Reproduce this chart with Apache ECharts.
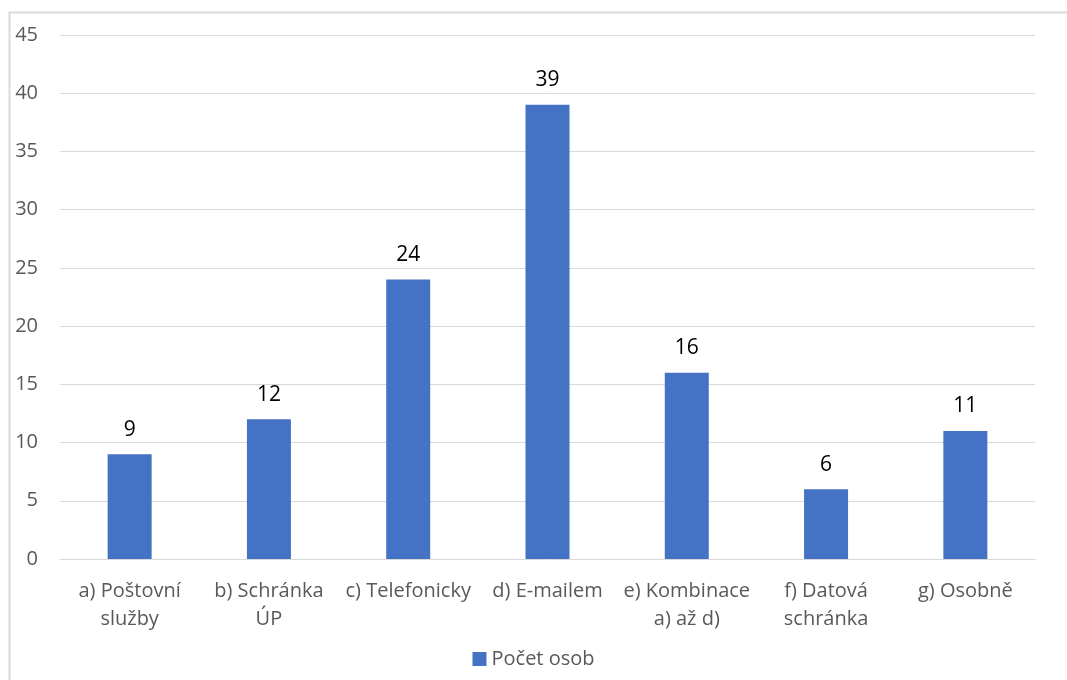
<!DOCTYPE html>
<html>
<head>
<meta charset="utf-8">
<script src="https://cdn.jsdelivr.net/npm/echarts@6/dist/echarts.min.js"></script>
<style>
  html, body { margin: 0; padding: 0; background: #fff; }
  #chart { width: 1067px; height: 680px; }
</style>
</head>
<body>
<div id="chart"></div>
<script>
// data
var categories = ['a) Poštovní\nslužby', 'b) Schránka\nÚP', 'c) Telefonicky', 'd) E-mailem',
                  'e) Kombinace\na) až d)', 'f) Datová\nschránka', 'g) Osobně'];
var pocetOsob = [9, 12, 24, 39, 16, 6, 11];
var seriesName = 'Počet osob';

var font = '"Open Sans", "Noto Sans", sans-serif';
var chart = echarts.init(document.getElementById('chart'));
var option = {
    backgroundColor: '#FFFFFF',
    animation: false,
    textStyle: { fontFamily: font },
    graphic: [{
        type: 'rect',
        shape: { x: 9.5, y: 12.5, width: 1200, height: 800 },
        style: { fill: 'none', stroke: '#d9d9d9', lineWidth: 2 },
        silent: true
    }],
    legend: {
        data: [seriesName],
        top: 644,
        left: 'center',
        icon: 'rect',
        itemWidth: 14,
        itemHeight: 14,
        itemGap: 6,
        textStyle: { fontFamily: font, fontSize: 20, color: '#595959' }
    },
    grid: {
        top: 35,
        left: 60,
        right: 32,
        bottom: 121,
        containLabel: false
    },
    xAxis: {
        type: 'category',
        data: categories,
        axisLine: { show: true, lineStyle: { color: '#d9d9d9', width: 1 } },
        axisTick: { show: false },
        axisLabel: {
            interval: 0,
            margin: 18,
            lineHeight: 28,
            color: '#595959',
            fontSize: 20,
            fontFamily: font,
            align: 'center'
        }
    },
    yAxis: {
        type: 'value',
        min: 0,
        max: 45,
        interval: 5,
        axisLine: { show: false },
        axisTick: { show: false },
        splitLine: { lineStyle: { color: '#d9d9d9', width: 1 } },
        axisLabel: { color: '#595959', fontSize: 20, fontFamily: font, margin: 22 }
    },
    series: [{
        name: seriesName,
        type: 'bar',
        data: pocetOsob,
        barWidth: 44,
        itemStyle: { color: '#4472c4' },
        label: {
            show: true,
            position: 'top',
            distance: 14,
            color: '#000',
            fontSize: 21,
            fontFamily: font
        }
    }]
};
chart.setOption(option);
</script>
</body>
</html>
